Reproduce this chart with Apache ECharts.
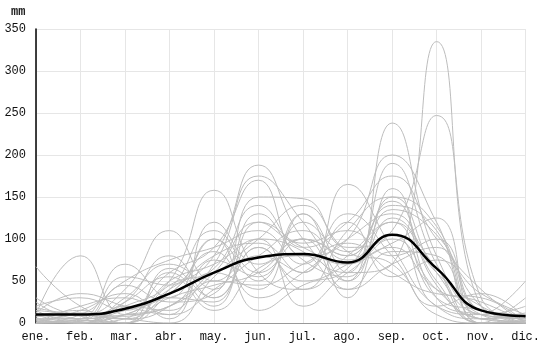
<!DOCTYPE html>
<html>
<head>
<meta charset="utf-8">
<script src="https://cdn.jsdelivr.net/npm/echarts@6/dist/echarts.min.js"></script>
<style>
  html, body { margin: 0; padding: 0; background: #fff; }
  #chart { width: 543px; height: 347px; }
</style>
</head>
<body>
<div id="chart"></div>
<script>
// meses (etiquetas del eje x)
const months = ['ene.', 'feb.', 'mar.', 'abr.', 'may.', 'jun.', 'jul.', 'ago.', 'sep.', 'oct.', 'nov.', 'dic.']

// precipitacion mensual de cada año (mm)
const y01 = [67, 20, 5, 30, 45, 60, 100, 80, 150, 60, 10, 5]
const y02 = [10, 80, 10, 20, 60, 120, 90, 70, 100, 40, 5, 2]
const y03 = [30, 10, 40, 110, 50, 80, 60, 165, 90, 20, 5, 10]
const y04 = [5, 5, 20, 50, 158, 60, 40, 80, 120, 30, 15, 3]
const y05 = [0, 2, 10, 40, 80, 188, 100, 60, 70, 335, 20, 5]
const y06 = [15, 10, 5, 20, 70, 175, 120, 50, 238, 80, 10, 0]
const y07 = [20, 30, 15, 60, 90, 170, 80, 100, 200, 120, 5, 8]
const y08 = [5, 0, 30, 70, 40, 150, 148, 90, 110, 247, 30, 0]
const y09 = [0, 5, 70, 30, 100, 50, 130, 60, 190, 70, 0, 3]
const y10 = [8, 15, 0, 45, 65, 140, 90, 120, 175, 100, 40, 0]
const y11 = [3, 0, 25, 80, 30, 90, 40, 110, 150, 115, 10, 50]
const y12 = [12, 35, 20, 10, 120, 70, 100, 80, 140, 110, 0, 30]
const y13 = [0, 10, 50, 75, 90, 110, 70, 130, 80, 20, 35, 5]
const y14 = [5, 5, 10, 20, 60, 40, 120, 85, 120, 60, 20, 0]
const y15 = [2, 0, 5, 60, 20, 100, 85, 40, 70, 90, 15, 10]
const y16 = [25, 5, 15, 35, 85, 30, 60, 100, 130, 50, 0, 0]
const y17 = [0, 20, 30, 10, 40, 80, 110, 75, 95, 125, 5, 12]
const y18 = [10, 0, 0, 50, 70, 100, 20, 60, 90, 40, 25, 0]
const y19 = [0, 2, 45, 25, 35, 130, 75, 55, 160, 30, 10, 5]
const y20 = [7, 12, 8, 40, 110, 60, 100, 40, 85, 80, 0, 2]
const y21 = [0, 0, 20, 15, 50, 45, 70, 95, 60, 35, 30, 0]
const y22 = [18, 8, 0, 65, 30, 90, 50, 70, 105, 20, 10, 20]
const y23 = [0, 15, 35, 5, 75, 55, 130, 30, 125, 65, 0, 0]
const y24 = [4, 0, 10, 30, 25, 120, 95, 110, 80, 100, 15, 8]
const y25 = [10, 5, 55, 45, 100, 15, 45, 65, 145, 45, 5, 0]
const y26 = [0, 10, 5, 0, 55, 100, 140, 85, 70, 10, 0, 3]
const y27 = [15, 0, 25, 55, 15, 65, 80, 50, 135, 105, 20, 0]
const y28 = [0, 3, 0, 35, 80, 95, 60, 120, 55, 75, 35, 10]

// media mensual (linea negra)
const mean = [10, 10, 17, 35, 60, 78, 82, 72, 105, 65, 15, 8]

const years = [y01, y02, y03, y04, y05, y06, y07, y08, y09, y10, y11, y12, y13, y14,
  y15, y16, y17, y18, y19, y20, y21, y22, y23, y24, y25, y26, y27, y28]

const font = '"Liberation Mono", "DejaVu Sans Mono", monospace'

const chart = echarts.init(document.getElementById('chart'))

const series = years.map(d => ({
  type: 'line',
  data: d,
  smooth: 0.5,
  symbol: 'none',
  silent: true,
  lineStyle: { color: '#bdbdbd', width: 1 }
}))

series.push({
  type: 'line',
  data: mean,
  smooth: 0.5,
  symbol: 'none',
  z: 5,
  lineStyle: { color: '#000', width: 2.5 }
})

chart.setOption({
  animation: false,
  title: {
    text: 'mm',
    left: 6,
    top: 1,
    textStyle: { fontFamily: font, fontSize: 12, fontWeight: 'bold', color: '#222' }
  },
  grid: { top: 29, right: 14, bottom: 24, left: 36 },
  xAxis: {
    type: 'category',
    data: months,
    boundaryGap: false,
    axisLine: { lineStyle: { color: '#999', width: 1 } },
    axisTick: { show: false },
    axisLabel: { fontFamily: font, fontSize: 12, color: '#111', margin: 8 },
    splitLine: { show: true, lineStyle: { color: '#e6e6e6' } }
  },
  yAxis: {
    type: 'value',
    min: 0,
    max: 350,
    interval: 50,
    axisLine: { show: true, lineStyle: { color: '#000', width: 1.5 } },
    axisTick: { show: false },
    axisLabel: { fontFamily: font, fontSize: 12, color: '#111', margin: 10 },
    splitLine: { lineStyle: { color: '#e6e6e6' } }
  },
  series
})
</script>
</body>
</html>
